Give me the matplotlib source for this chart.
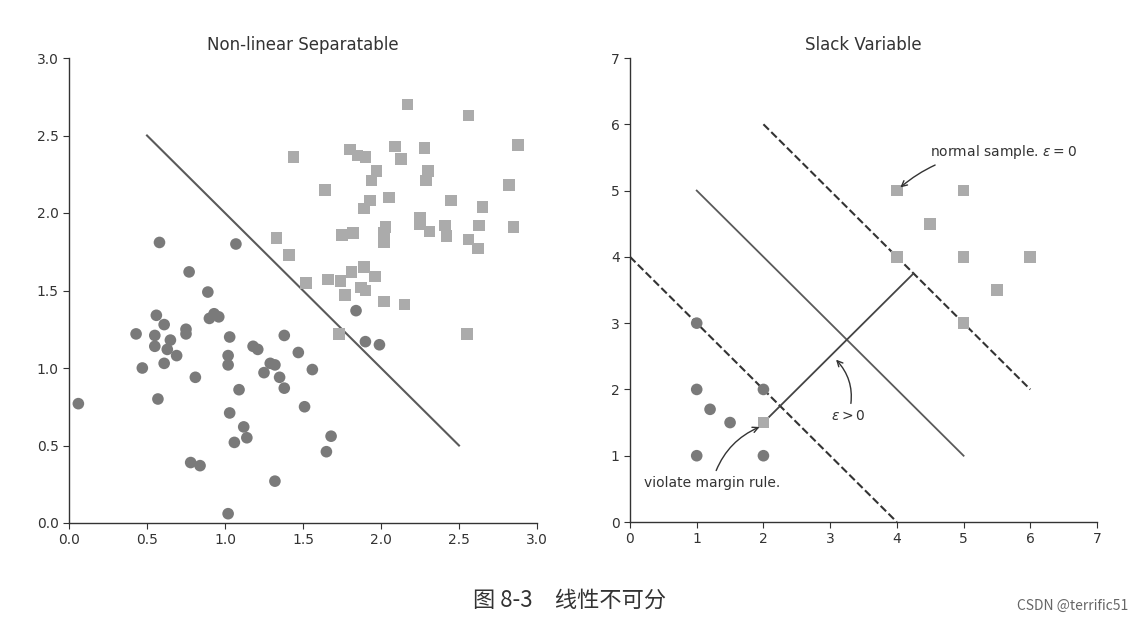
import matplotlib
matplotlib.use("Agg")
import matplotlib.pyplot as plt
import numpy as np

# ---- Left panel data ----
circle_x = [0.06, 0.58, 1.07, 0.77, 0.89, 0.56, 0.61, 0.43, 0.55, 0.55, 0.65, 0.63, 0.75, 0.75,
            0.69, 0.61, 0.47, 0.81, 0.57, 0.90, 0.93, 0.96, 1.03, 1.02, 1.02, 1.09, 1.03, 1.12,
            1.14, 1.06, 1.18, 1.21, 1.38, 1.47, 1.29, 1.32, 1.25, 1.35, 1.38, 1.56, 1.51, 1.68,
            1.65, 0.78, 0.84, 1.32, 1.02, 1.84, 1.90, 1.99]
circle_y = [0.77, 1.81, 1.80, 1.62, 1.49, 1.34, 1.28, 1.22, 1.21, 1.14, 1.18, 1.12, 1.25, 1.22,
            1.08, 1.03, 1.00, 0.94, 0.80, 1.32, 1.35, 1.33, 1.20, 1.08, 1.02, 0.86, 0.71, 0.62,
            0.55, 0.52, 1.14, 1.12, 1.21, 1.10, 1.03, 1.02, 0.97, 0.94, 0.87, 0.99, 0.75, 0.56,
            0.46, 0.39, 0.37, 0.27, 0.06, 1.37, 1.17, 1.15]
square_x = [2.17, 2.56, 2.88, 1.44, 1.80, 1.85, 1.90, 2.09, 2.28, 2.13, 1.97, 1.94, 2.30, 2.29,
            1.64, 2.82, 1.93, 1.89, 2.05, 2.45, 2.65, 2.25, 2.25, 2.31, 2.41, 2.63, 2.85, 2.42,
            2.56, 2.62, 1.75, 1.82, 2.03, 2.02, 2.02, 1.41, 1.33, 1.52, 1.66, 1.74, 1.81, 1.89,
            1.96, 1.77, 1.87, 1.90, 2.02, 2.15, 1.73, 2.55]
square_y = [2.70, 2.63, 2.44, 2.36, 2.41, 2.37, 2.36, 2.43, 2.42, 2.35, 2.27, 2.21, 2.27, 2.21,
            2.15, 2.18, 2.08, 2.03, 2.10, 2.08, 2.04, 1.97, 1.93, 1.88, 1.92, 1.92, 1.91, 1.85,
            1.83, 1.77, 1.86, 1.87, 1.91, 1.87, 1.81, 1.73, 1.84, 1.55, 1.57, 1.56, 1.62, 1.65,
            1.59, 1.47, 1.52, 1.50, 1.43, 1.41, 1.22, 1.22]
sep_line_x = [0.5, 2.5]
sep_line_y = [2.5, 0.5]

# ---- Right panel data ----
neg_x = [1, 1, 1.2, 1.5, 1, 2, 2]
neg_y = [3, 2, 1.7, 1.5, 1, 2, 1]
pos_x = [4, 5, 4.5, 4, 5, 6, 5.5, 5, 2]
pos_y = [5, 5, 4.5, 4, 4, 4, 3.5, 3, 1.5]
hyper_x = [1, 5]
hyper_y = [5, 1]
margin_lo_x = [0, 4]
margin_lo_y = [4, 0]
margin_hi_x = [2, 6]
margin_hi_y = [6, 2]
slack_x = [2, 4.25]
slack_y = [1.5, 3.75]

circle_color = "#7a7a7a"
square_color = "#ababab"
line_color = "#5a5a5a"

fig = plt.figure(figsize=(11.41, 6.21), dpi=100)
ax1 = fig.add_axes([69/1141, 98/621, 468/1141, 465/621])
ax2 = fig.add_axes([630/1141, 99/621, 467/1141, 464/621])

for ax in (ax1, ax2):
    for s in ("top", "right"):
        ax.spines[s].set_visible(False)
    for s in ("left", "bottom"):
        ax.spines[s].set_color("#333333")
        ax.spines[s].set_linewidth(1.0)
    ax.tick_params(colors="#333333", labelsize=10, direction="out", length=4)

# Left
ax1.scatter(circle_x, circle_y, s=70, marker="o", color=circle_color, edgecolors="none", zorder=3)
ax1.scatter(square_x, square_y, s=70, marker="s", color=square_color, edgecolors="none", zorder=3)
ax1.plot(sep_line_x, sep_line_y, color=line_color, lw=1.5)
ax1.set_xlim(0, 3)
ax1.set_ylim(0, 3)
ax1.set_xticks(np.arange(0, 3.01, 0.5))
ax1.set_yticks(np.arange(0, 3.01, 0.5))
ax1.set_title("Non-linear Separatable", fontsize=12, color="#333333", pad=6)

# Right
ax2.scatter(neg_x, neg_y, s=70, marker="o", color=circle_color, edgecolors="none", zorder=3)
ax2.scatter(pos_x, pos_y, s=70, marker="s", color=square_color, edgecolors="none", zorder=3)
ax2.plot(hyper_x, hyper_y, color=line_color, lw=1.3)
ax2.plot(margin_lo_x, margin_lo_y, color="#333333", lw=1.5, ls="--")
ax2.plot(margin_hi_x, margin_hi_y, color="#333333", lw=1.5, ls="--")
ax2.plot(slack_x, slack_y, color="#444444", lw=1.3)
ax2.set_xlim(0, 7)
ax2.set_ylim(0, 7)
ax2.set_xticks(range(0, 8))
ax2.set_yticks(range(0, 8))
ax2.set_title("Slack Variable", fontsize=12, color="#333333", pad=6)

arrowprops = dict(arrowstyle="->", color="#333333", lw=1.0)
ax2.annotate(r"normal sample. $\varepsilon = 0$", xy=(4.02, 5.02), xytext=(4.5, 5.58),
             fontsize=10, color="#333333", va="center", ha="left",
             arrowprops=dict(arrowprops, connectionstyle="arc3,rad=0.2"))
ax2.annotate(r"$\varepsilon > 0$", xy=(3.06, 2.48), xytext=(3.27, 1.6),
             fontsize=10, color="#333333", va="center", ha="center",
             arrowprops=dict(arrowprops, connectionstyle="arc3,rad=0.3"))
ax2.annotate("violate margin rule.", xy=(1.98, 1.45), xytext=(1.23, 0.59),
             fontsize=10, color="#333333", va="center", ha="center",
             arrowprops=dict(arrowprops, connectionstyle="arc3,rad=-0.25"))

fig.text(570/1141, 1 - 600/621, "图 8-3　线性不可分", fontsize=16, ha="center", va="center",
         color="#333333", family=["Noto Sans CJK SC", "DejaVu Sans"])
fig.text(1128/1141, 1 - 606/621, "CSDN @terrific51", fontsize=10, ha="right", va="center",
         color="#666666", family=["Noto Sans CJK SC", "DejaVu Sans"])

fig.savefig("out.png", dpi=100)
